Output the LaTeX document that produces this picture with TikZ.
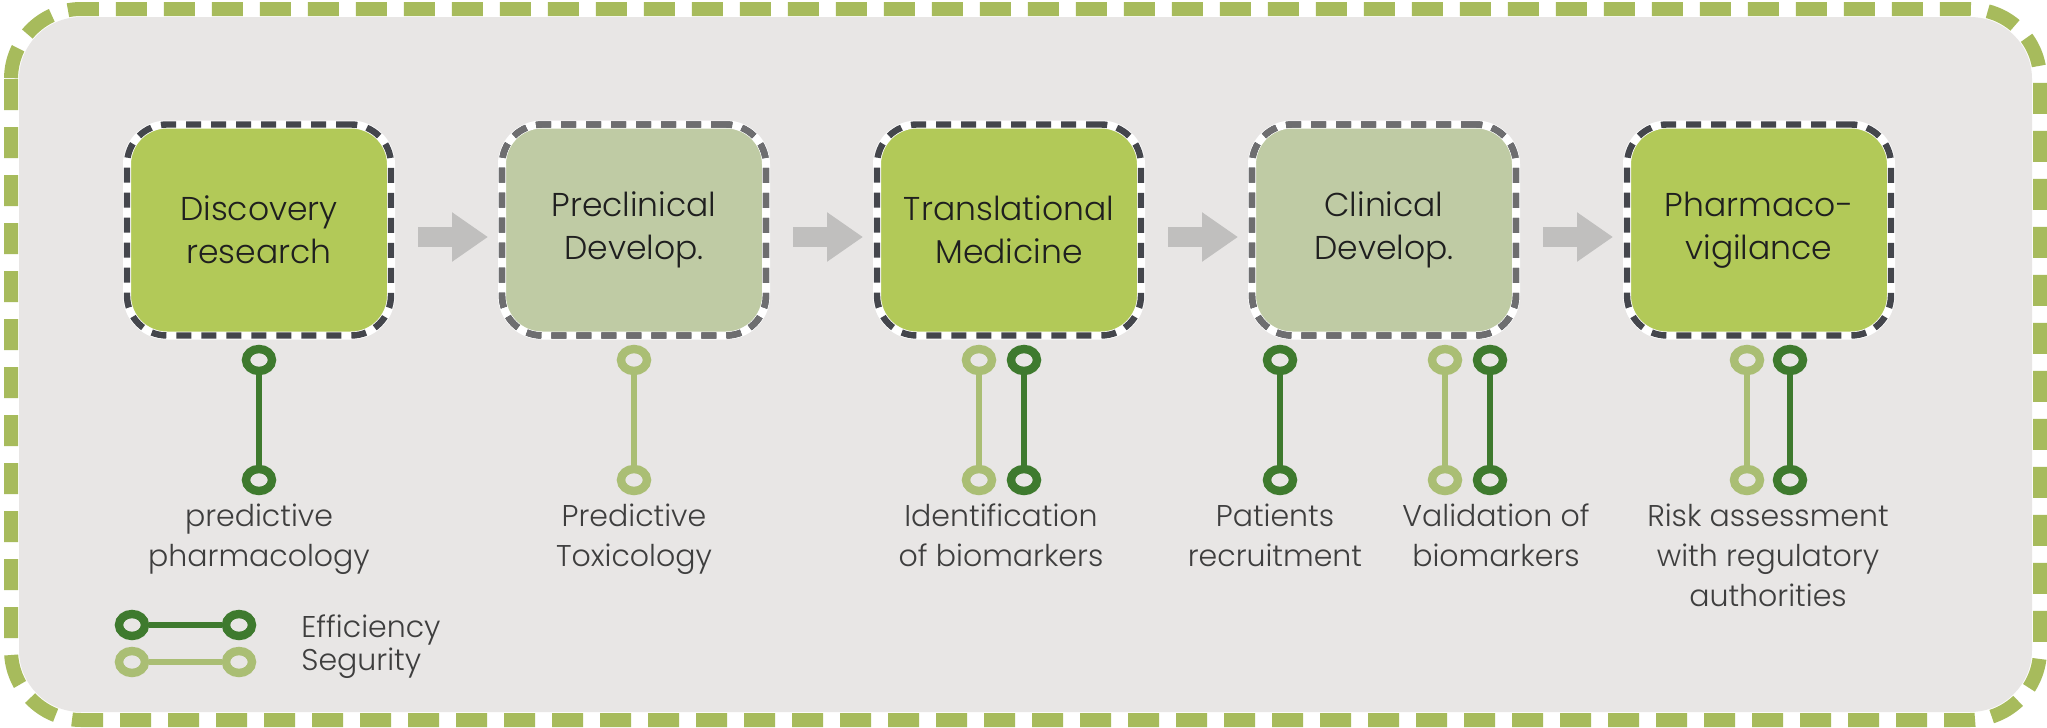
\documentclass[tikz,border=0pt]{standalone}
\usepackage{fontspec}
\setmainfont{Poppins}[UprightFont={* Light}]
\usetikzlibrary{arrows.meta,shapes.geometric}
\definecolor{framegreen}{RGB}{167,187,92}
\definecolor{bggray}{RGB}{232,230,229}
\definecolor{brightgreen}{RGB}{178,201,88}
\definecolor{palegreen}{RGB}{191,203,164}
\definecolor{darkborder}{RGB}{68,70,76}
\definecolor{midborder}{RGB}{110,110,112}
\definecolor{effgreen}{RGB}{62,122,46}
\definecolor{segreen}{RGB}{170,190,116}
\definecolor{arrowgray}{RGB}{192,191,190}
\definecolor{labelgray}{RGB}{62,62,62}
\begin{document}
\begin{tikzpicture}[x=0.5pt,y=-0.5pt,
  keybox/.style={rectangle, rounded corners=20pt, minimum width=132pt, minimum height=105.5pt,
    inner sep=0pt, align=center, font=\fontsize{16.5}{21.5}\selectfont, text=black!88,
    fill=brightgreen, draw=white, line width=4pt,
    postaction={draw=darkborder, line width=3.2pt, dash pattern=on 7.5pt off 5pt}},
  subbox/.style={keybox, fill=palegreen,
    postaction={draw=midborder, line width=3.2pt, dash pattern=on 7.5pt off 5pt}},
  flowarrow/.style={draw=arrowgray, line width=10pt, -{Triangle[length=18pt,width=23.5pt]}},
  ring/.style={ellipse, minimum width=13pt, minimum height=11pt, inner sep=0pt,
    line width=4.2pt, draw=#1, fill=bggray},
  stem/.style={draw=#1, line width=3.4pt},
  lbl/.style={align=center, anchor=base, inner sep=0pt, text=labelgray,
    font=\fontsize{15}{20}\selectfont},
  legtext/.style={anchor=base west, inner sep=0pt, text=labelgray,
    font=\fontsize{15}{20}\selectfont}
]
\useasboundingbox (0,0) rectangle (2047,728);
\fill[white] (0,0) rectangle (2047,728);
\fill[bggray, rounded corners=31pt] (19,17) rectangle (2032,712);
\draw[framegreen, line width=7pt, dash pattern=on 15.5pt off 8.5pt, rounded corners=35pt]
  (11,9) rectangle (2040,720);

% stages
\node[keybox] (b1) at (259,230) {Discovery\\research};
\node[subbox] (b2) at (634,230) {Preclinical\\Develop.};
\node[keybox] (b3) at (1009,230) {Translational\\Medicine};
\node[subbox] (b4) at (1384,230) {Clinical\\Develop.};
\node[keybox] (b5) at (1759,230) {Pharmaco-\\vigilance};

\draw[flowarrow] ([xshift=11.5pt,yshift=-3.5pt]b1.east) -- ([xshift=-5pt,yshift=-3.5pt]b2.west);
\draw[flowarrow] ([xshift=11.5pt,yshift=-3.5pt]b2.east) -- ([xshift=-5pt,yshift=-3.5pt]b3.west);
\draw[flowarrow] ([xshift=11.5pt,yshift=-3.5pt]b3.east) -- ([xshift=-5pt,yshift=-3.5pt]b4.west);
\draw[flowarrow] ([xshift=11.5pt,yshift=-3.5pt]b4.east) -- ([xshift=-5pt,yshift=-3.5pt]b5.west);

% pins
\node[ring=effgreen] (p1t) at (259,360) {};
\node[ring=effgreen] (p1b) at (259,480) {};
\draw[stem=effgreen] (p1t) -- (p1b);

\node[ring=segreen] (p2t) at (634,360) {};
\node[ring=segreen] (p2b) at (634,480) {};
\draw[stem=segreen] (p2t) -- (p2b);

\node[ring=segreen] (p3at) at (979,360) {};
\node[ring=segreen] (p3ab) at (979,480) {};
\draw[stem=segreen] (p3at) -- (p3ab);
\node[ring=effgreen] (p3bt) at (1024,360) {};
\node[ring=effgreen] (p3bb) at (1024,480) {};
\draw[stem=effgreen] (p3bt) -- (p3bb);

\node[ring=effgreen] (p4t) at (1280,360) {};
\node[ring=effgreen] (p4b) at (1280,480) {};
\draw[stem=effgreen] (p4t) -- (p4b);

\node[ring=segreen] (p5at) at (1445,360) {};
\node[ring=segreen] (p5ab) at (1445,480) {};
\draw[stem=segreen] (p5at) -- (p5ab);
\node[ring=effgreen] (p5bt) at (1490,360) {};
\node[ring=effgreen] (p5bb) at (1490,480) {};
\draw[stem=effgreen] (p5bt) -- (p5bb);

\node[ring=segreen] (p6at) at (1747,360) {};
\node[ring=segreen] (p6ab) at (1747,480) {};
\draw[stem=segreen] (p6at) -- (p6ab);
\node[ring=effgreen] (p6bt) at (1790,360) {};
\node[ring=effgreen] (p6bb) at (1790,480) {};
\draw[stem=effgreen] (p6bt) -- (p6bb);

% labels (anchored at the baseline of the last line)
\node[lbl] (l1) at (259,566) {predictive\\pharmacology};
\node[lbl] (l2) at (634,566) {Predictive\\Toxicology};
\node[lbl] (l3) at (1001,566) {Identification\\of biomarkers};
\node[lbl] (l4) at (1275,566) {Patients\\recruitment};
\node[lbl] (l5) at (1496,566) {Validation of\\biomarkers};
\node[lbl] (l6) at (1768,606) {Risk assessment\\with regulatory\\authorities};

% legend
\node[ring=effgreen] (e1) at (132,625) {};
\node[ring=effgreen] (e2) at (239,625) {};
\draw[stem=effgreen] (e1) -- (e2);
\node[ring=segreen] (s1) at (132,662) {};
\node[ring=segreen] (s2) at (239,662) {};
\draw[stem=segreen] (s1) -- (s2);
\node[legtext] (et) at (301,637) {Efficiency};
\node[legtext] (st) at (301,670) {Segurity};
\end{tikzpicture}
\end{document}
